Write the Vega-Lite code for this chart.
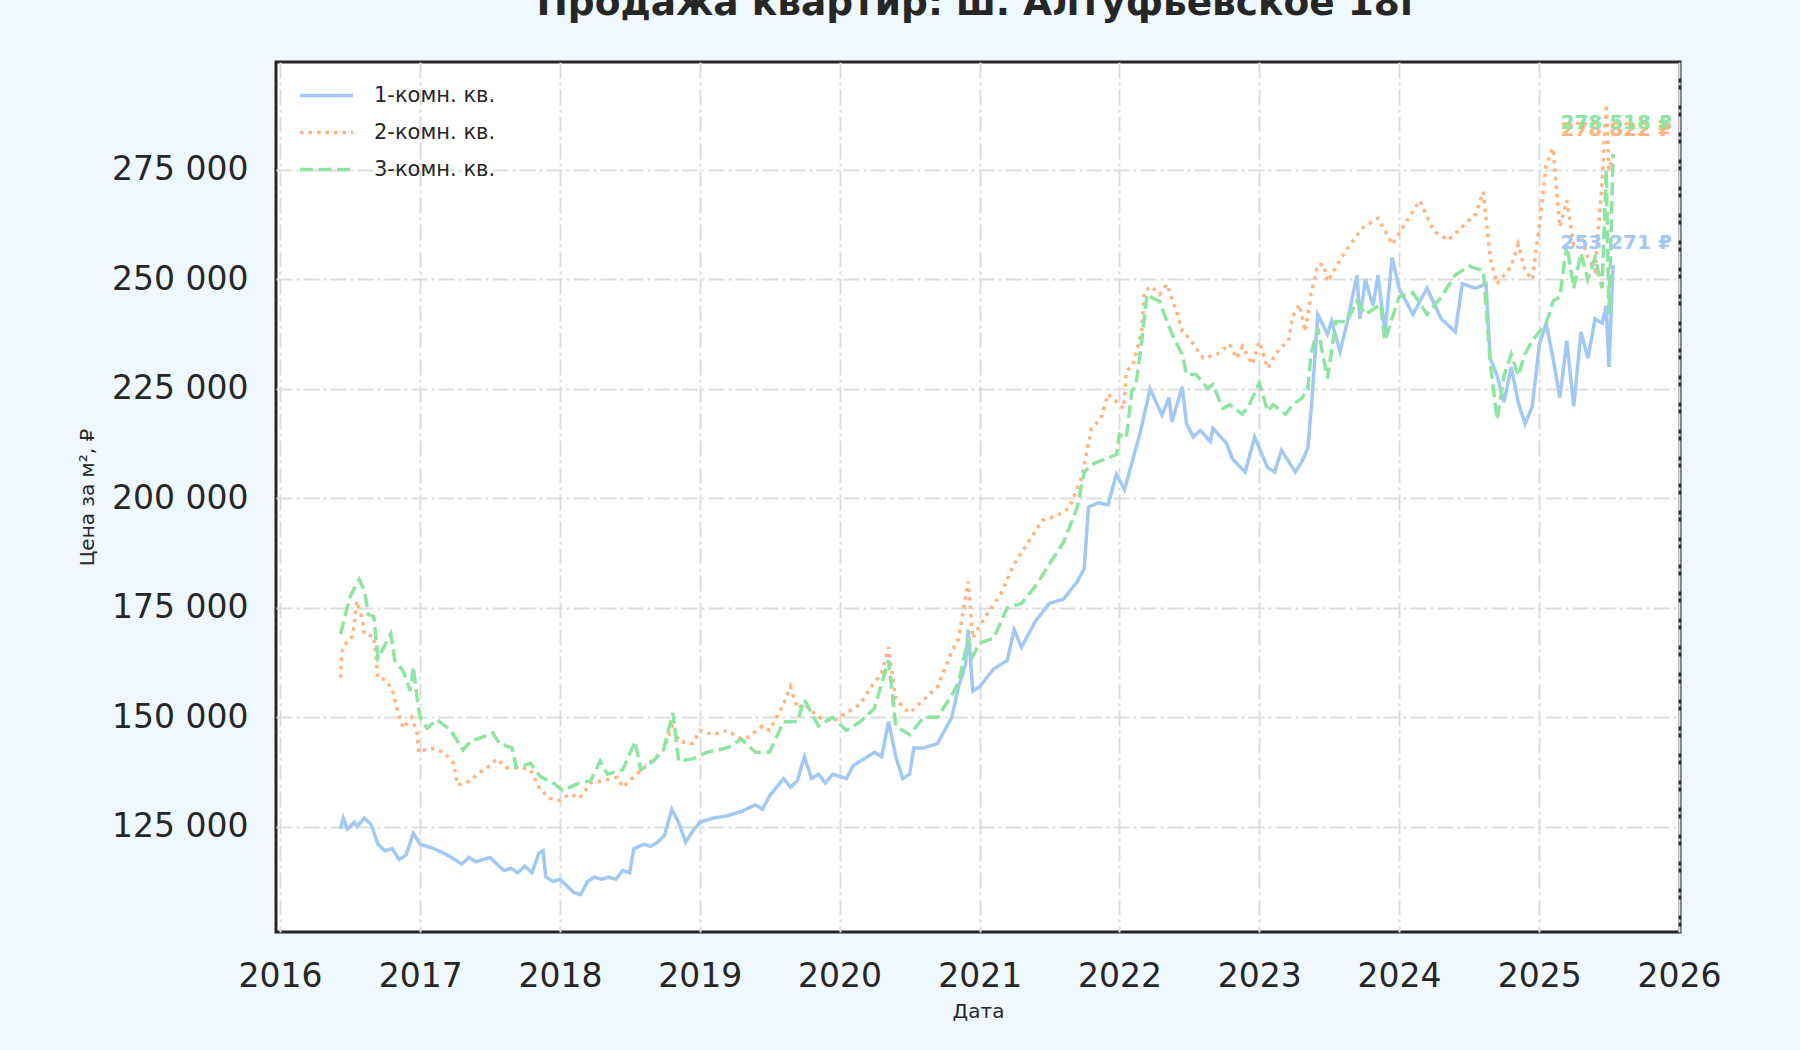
{
  "$schema": "https://vega.github.io/schema/vega-lite/v6.json",
  "width": 1404,
  "height": 870,
  "autosize": {"type": "none"},
  "padding": {"left": 276, "top": 62, "right": 120, "bottom": 118},
  "background": "#f0f8ff",
  "title": {
    "text": "Продажа квартир: ш. Алтуфьевское 18г",
    "font": "DejaVu Sans",
    "fontSize": 37.5,
    "fontWeight": "bold",
    "color": "#262626",
    "anchor": "middle",
    "baseline": "alphabetic",
    "offset": 10
  },
  "data": {
    "values": [
      {"date": "2016-06-07", "type": "1-комн. кв.", "price": 124500},
      {"date": "2016-06-14", "type": "1-комн. кв.", "price": 127000},
      {"date": "2016-06-25", "type": "1-комн. кв.", "price": 124500},
      {"date": "2016-07-13", "type": "1-комн. кв.", "price": 126000},
      {"date": "2016-07-20", "type": "1-комн. кв.", "price": 125000},
      {"date": "2016-08-08", "type": "1-комн. кв.", "price": 127000},
      {"date": "2016-08-26", "type": "1-комн. кв.", "price": 125500},
      {"date": "2016-09-13", "type": "1-комн. кв.", "price": 121000},
      {"date": "2016-10-01", "type": "1-комн. кв.", "price": 119500},
      {"date": "2016-10-20", "type": "1-комн. кв.", "price": 120000},
      {"date": "2016-11-07", "type": "1-комн. кв.", "price": 117500},
      {"date": "2016-11-25", "type": "1-комн. кв.", "price": 118500},
      {"date": "2016-12-14", "type": "1-комн. кв.", "price": 123500},
      {"date": "2017-01-01", "type": "1-комн. кв.", "price": 121000},
      {"date": "2017-01-19", "type": "1-комн. кв.", "price": 120500},
      {"date": "2017-02-06", "type": "1-комн. кв.", "price": 120000},
      {"date": "2017-03-14", "type": "1-комн. кв.", "price": 118500},
      {"date": "2017-04-01", "type": "1-комн. кв.", "price": 117500},
      {"date": "2017-04-20", "type": "1-комн. кв.", "price": 116500},
      {"date": "2017-05-08", "type": "1-комн. кв.", "price": 118000},
      {"date": "2017-05-27", "type": "1-комн. кв.", "price": 117000},
      {"date": "2017-06-14", "type": "1-комн. кв.", "price": 117500},
      {"date": "2017-07-02", "type": "1-комн. кв.", "price": 118000},
      {"date": "2017-07-20", "type": "1-комн. кв.", "price": 116500},
      {"date": "2017-08-08", "type": "1-комн. кв.", "price": 115000},
      {"date": "2017-08-26", "type": "1-комн. кв.", "price": 115500},
      {"date": "2017-09-13", "type": "1-комн. кв.", "price": 114500},
      {"date": "2017-10-01", "type": "1-комн. кв.", "price": 116000},
      {"date": "2017-10-20", "type": "1-комн. кв.", "price": 114500},
      {"date": "2017-11-07", "type": "1-комн. кв.", "price": 119000},
      {"date": "2017-11-18", "type": "1-комн. кв.", "price": 119500},
      {"date": "2017-11-25", "type": "1-комн. кв.", "price": 113500},
      {"date": "2017-12-14", "type": "1-комн. кв.", "price": 112500},
      {"date": "2018-01-01", "type": "1-комн. кв.", "price": 113000},
      {"date": "2018-01-19", "type": "1-комн. кв.", "price": 111500},
      {"date": "2018-02-06", "type": "1-комн. кв.", "price": 110000},
      {"date": "2018-02-24", "type": "1-комн. кв.", "price": 109500},
      {"date": "2018-03-14", "type": "1-комн. кв.", "price": 112500},
      {"date": "2018-04-01", "type": "1-комн. кв.", "price": 113500},
      {"date": "2018-04-20", "type": "1-комн. кв.", "price": 113000},
      {"date": "2018-05-08", "type": "1-комн. кв.", "price": 113500},
      {"date": "2018-05-27", "type": "1-комн. кв.", "price": 113000},
      {"date": "2018-06-14", "type": "1-комн. кв.", "price": 115000},
      {"date": "2018-07-02", "type": "1-комн. кв.", "price": 114500},
      {"date": "2018-07-13", "type": "1-комн. кв.", "price": 120000},
      {"date": "2018-08-08", "type": "1-комн. кв.", "price": 121000},
      {"date": "2018-08-26", "type": "1-комн. кв.", "price": 120500},
      {"date": "2018-09-13", "type": "1-комн. кв.", "price": 121500},
      {"date": "2018-10-01", "type": "1-комн. кв.", "price": 123000},
      {"date": "2018-10-20", "type": "1-комн. кв.", "price": 129000},
      {"date": "2018-11-07", "type": "1-комн. кв.", "price": 126000},
      {"date": "2018-11-25", "type": "1-комн. кв.", "price": 121500},
      {"date": "2018-12-14", "type": "1-комн. кв.", "price": 124000},
      {"date": "2019-01-01", "type": "1-комн. кв.", "price": 126000},
      {"date": "2019-02-06", "type": "1-комн. кв.", "price": 127000},
      {"date": "2019-03-14", "type": "1-комн. кв.", "price": 127500},
      {"date": "2019-04-20", "type": "1-комн. кв.", "price": 128500},
      {"date": "2019-05-27", "type": "1-комн. кв.", "price": 130000},
      {"date": "2019-06-14", "type": "1-комн. кв.", "price": 129000},
      {"date": "2019-07-02", "type": "1-комн. кв.", "price": 132000},
      {"date": "2019-08-08", "type": "1-комн. кв.", "price": 136000},
      {"date": "2019-08-26", "type": "1-комн. кв.", "price": 134000},
      {"date": "2019-09-13", "type": "1-комн. кв.", "price": 135500},
      {"date": "2019-10-01", "type": "1-комн. кв.", "price": 141000},
      {"date": "2019-10-20", "type": "1-комн. кв.", "price": 136000},
      {"date": "2019-11-07", "type": "1-комн. кв.", "price": 137000},
      {"date": "2019-11-25", "type": "1-комн. кв.", "price": 135000},
      {"date": "2019-12-14", "type": "1-комн. кв.", "price": 137000},
      {"date": "2020-01-01", "type": "1-комн. кв.", "price": 136500},
      {"date": "2020-01-19", "type": "1-комн. кв.", "price": 136000},
      {"date": "2020-02-06", "type": "1-комн. кв.", "price": 139000},
      {"date": "2020-03-14", "type": "1-комн. кв.", "price": 141000},
      {"date": "2020-04-01", "type": "1-комн. кв.", "price": 142000},
      {"date": "2020-04-20", "type": "1-комн. кв.", "price": 141000},
      {"date": "2020-05-08", "type": "1-комн. кв.", "price": 149000},
      {"date": "2020-05-27", "type": "1-комн. кв.", "price": 141000},
      {"date": "2020-06-14", "type": "1-комн. кв.", "price": 136000},
      {"date": "2020-07-02", "type": "1-комн. кв.", "price": 137000},
      {"date": "2020-07-13", "type": "1-комн. кв.", "price": 143000},
      {"date": "2020-08-08", "type": "1-комн. кв.", "price": 143000},
      {"date": "2020-09-13", "type": "1-комн. кв.", "price": 144000},
      {"date": "2020-10-20", "type": "1-комн. кв.", "price": 150000},
      {"date": "2020-11-07", "type": "1-комн. кв.", "price": 157000},
      {"date": "2020-11-25", "type": "1-комн. кв.", "price": 162000},
      {"date": "2020-12-02", "type": "1-комн. кв.", "price": 170000},
      {"date": "2020-12-14", "type": "1-комн. кв.", "price": 156000},
      {"date": "2021-01-01", "type": "1-комн. кв.", "price": 157000},
      {"date": "2021-02-06", "type": "1-комн. кв.", "price": 161000},
      {"date": "2021-03-14", "type": "1-комн. кв.", "price": 163000},
      {"date": "2021-04-01", "type": "1-комн. кв.", "price": 170000},
      {"date": "2021-04-20", "type": "1-комн. кв.", "price": 166000},
      {"date": "2021-05-27", "type": "1-комн. кв.", "price": 172000},
      {"date": "2021-07-02", "type": "1-комн. кв.", "price": 176000},
      {"date": "2021-08-08", "type": "1-комн. кв.", "price": 177000},
      {"date": "2021-09-13", "type": "1-комн. кв.", "price": 181000},
      {"date": "2021-10-01", "type": "1-комн. кв.", "price": 184000},
      {"date": "2021-10-12", "type": "1-комн. кв.", "price": 198000},
      {"date": "2021-11-07", "type": "1-комн. кв.", "price": 199000},
      {"date": "2021-12-02", "type": "1-комн. кв.", "price": 198500},
      {"date": "2021-12-24", "type": "1-комн. кв.", "price": 205500},
      {"date": "2022-01-14", "type": "1-комн. кв.", "price": 202000},
      {"date": "2022-01-30", "type": "1-комн. кв.", "price": 207000},
      {"date": "2022-02-24", "type": "1-комн. кв.", "price": 215000},
      {"date": "2022-03-22", "type": "1-комн. кв.", "price": 225000},
      {"date": "2022-04-22", "type": "1-комн. кв.", "price": 219000},
      {"date": "2022-05-10", "type": "1-комн. кв.", "price": 223000},
      {"date": "2022-05-18", "type": "1-комн. кв.", "price": 217500},
      {"date": "2022-06-14", "type": "1-комн. кв.", "price": 225500},
      {"date": "2022-06-25", "type": "1-комн. кв.", "price": 217000},
      {"date": "2022-07-13", "type": "1-комн. кв.", "price": 214000},
      {"date": "2022-07-31", "type": "1-комн. кв.", "price": 215500},
      {"date": "2022-08-26", "type": "1-комн. кв.", "price": 213000},
      {"date": "2022-09-02", "type": "1-комн. кв.", "price": 216000},
      {"date": "2022-10-08", "type": "1-комн. кв.", "price": 212500},
      {"date": "2022-10-23", "type": "1-комн. кв.", "price": 209000},
      {"date": "2022-11-25", "type": "1-комн. кв.", "price": 206000},
      {"date": "2022-12-20", "type": "1-комн. кв.", "price": 214000},
      {"date": "2023-01-23", "type": "1-комн. кв.", "price": 207000},
      {"date": "2023-02-10", "type": "1-комн. кв.", "price": 206000},
      {"date": "2023-02-28", "type": "1-комн. кв.", "price": 211000},
      {"date": "2023-04-05", "type": "1-комн. кв.", "price": 206000},
      {"date": "2023-04-23", "type": "1-комн. кв.", "price": 208500},
      {"date": "2023-05-08", "type": "1-комн. кв.", "price": 211500},
      {"date": "2023-05-19", "type": "1-комн. кв.", "price": 223000},
      {"date": "2023-06-03", "type": "1-комн. кв.", "price": 242000},
      {"date": "2023-06-28", "type": "1-комн. кв.", "price": 237500},
      {"date": "2023-07-09", "type": "1-комн. кв.", "price": 240500},
      {"date": "2023-07-31", "type": "1-комн. кв.", "price": 233500},
      {"date": "2023-08-18", "type": "1-комн. кв.", "price": 240000},
      {"date": "2023-09-13", "type": "1-комн. кв.", "price": 251000},
      {"date": "2023-09-21", "type": "1-комн. кв.", "price": 241000},
      {"date": "2023-10-05", "type": "1-комн. кв.", "price": 250000},
      {"date": "2023-10-25", "type": "1-комн. кв.", "price": 244000},
      {"date": "2023-11-07", "type": "1-комн. кв.", "price": 251000},
      {"date": "2023-11-25", "type": "1-комн. кв.", "price": 238000},
      {"date": "2023-12-14", "type": "1-комн. кв.", "price": 255000},
      {"date": "2024-01-01", "type": "1-комн. кв.", "price": 248000},
      {"date": "2024-02-06", "type": "1-комн. кв.", "price": 242000},
      {"date": "2024-03-14", "type": "1-комн. кв.", "price": 248000},
      {"date": "2024-04-20", "type": "1-комн. кв.", "price": 241000},
      {"date": "2024-05-27", "type": "1-комн. кв.", "price": 238000},
      {"date": "2024-06-14", "type": "1-комн. кв.", "price": 249000},
      {"date": "2024-07-20", "type": "1-комн. кв.", "price": 248000},
      {"date": "2024-08-15", "type": "1-комн. кв.", "price": 249000},
      {"date": "2024-08-26", "type": "1-комн. кв.", "price": 232000},
      {"date": "2024-09-13", "type": "1-комн. кв.", "price": 228000},
      {"date": "2024-10-01", "type": "1-комн. кв.", "price": 222000},
      {"date": "2024-10-20", "type": "1-комн. кв.", "price": 230000},
      {"date": "2024-11-07", "type": "1-комн. кв.", "price": 222000},
      {"date": "2024-11-25", "type": "1-комн. кв.", "price": 217000},
      {"date": "2024-12-14", "type": "1-комн. кв.", "price": 221000},
      {"date": "2025-01-01", "type": "1-комн. кв.", "price": 235000},
      {"date": "2025-01-19", "type": "1-комн. кв.", "price": 240000},
      {"date": "2025-02-06", "type": "1-комн. кв.", "price": 232000},
      {"date": "2025-02-24", "type": "1-комн. кв.", "price": 223000},
      {"date": "2025-03-14", "type": "1-комн. кв.", "price": 236000},
      {"date": "2025-04-01", "type": "1-комн. кв.", "price": 221000},
      {"date": "2025-04-20", "type": "1-комн. кв.", "price": 238000},
      {"date": "2025-05-08", "type": "1-комн. кв.", "price": 232000},
      {"date": "2025-05-27", "type": "1-комн. кв.", "price": 241000},
      {"date": "2025-06-14", "type": "1-комн. кв.", "price": 240000},
      {"date": "2025-06-25", "type": "1-комн. кв.", "price": 244000},
      {"date": "2025-07-02", "type": "1-комн. кв.", "price": 230000},
      {"date": "2025-07-13", "type": "1-комн. кв.", "price": 253271},

      {"date": "2016-06-07", "type": "2-комн. кв.", "price": 159000},
      {"date": "2016-06-11", "type": "2-комн. кв.", "price": 165000},
      {"date": "2016-06-25", "type": "2-комн. кв.", "price": 167500},
      {"date": "2016-07-09", "type": "2-комн. кв.", "price": 168500},
      {"date": "2016-07-20", "type": "2-комн. кв.", "price": 176500},
      {"date": "2016-08-04", "type": "2-комн. кв.", "price": 172000},
      {"date": "2016-08-08", "type": "2-комн. кв.", "price": 169000},
      {"date": "2016-09-02", "type": "2-комн. кв.", "price": 168500},
      {"date": "2016-09-13", "type": "2-комн. кв.", "price": 159000},
      {"date": "2016-10-05", "type": "2-комн. кв.", "price": 158500},
      {"date": "2016-10-23", "type": "2-комн. кв.", "price": 155500},
      {"date": "2016-11-03", "type": "2-комн. кв.", "price": 151500},
      {"date": "2016-11-18", "type": "2-комн. кв.", "price": 147500},
      {"date": "2016-12-10", "type": "2-комн. кв.", "price": 150000},
      {"date": "2016-12-24", "type": "2-комн. кв.", "price": 146500},
      {"date": "2016-12-28", "type": "2-комн. кв.", "price": 142000},
      {"date": "2017-01-27", "type": "2-комн. кв.", "price": 143000},
      {"date": "2017-03-04", "type": "2-комн. кв.", "price": 142000},
      {"date": "2017-03-29", "type": "2-комн. кв.", "price": 139500},
      {"date": "2017-04-09", "type": "2-комн. кв.", "price": 134500},
      {"date": "2017-05-12", "type": "2-комн. кв.", "price": 135500},
      {"date": "2017-05-30", "type": "2-комн. кв.", "price": 137000},
      {"date": "2017-06-25", "type": "2-комн. кв.", "price": 138500},
      {"date": "2017-07-20", "type": "2-комн. кв.", "price": 140500},
      {"date": "2017-08-15", "type": "2-комн. кв.", "price": 138500},
      {"date": "2017-09-21", "type": "2-комн. кв.", "price": 138500},
      {"date": "2017-10-16", "type": "2-комн. кв.", "price": 138000},
      {"date": "2017-11-10", "type": "2-комн. кв.", "price": 133500},
      {"date": "2017-12-06", "type": "2-комн. кв.", "price": 131500},
      {"date": "2018-01-01", "type": "2-комн. кв.", "price": 131000},
      {"date": "2018-01-27", "type": "2-комн. кв.", "price": 132500},
      {"date": "2018-02-21", "type": "2-комн. кв.", "price": 131500},
      {"date": "2018-03-22", "type": "2-комн. кв.", "price": 135000},
      {"date": "2018-04-23", "type": "2-комн. кв.", "price": 135500},
      {"date": "2018-05-30", "type": "2-комн. кв.", "price": 136300},
      {"date": "2018-06-14", "type": "2-комн. кв.", "price": 134000},
      {"date": "2018-07-20", "type": "2-комн. кв.", "price": 137000},
      {"date": "2018-08-22", "type": "2-комн. кв.", "price": 139500},
      {"date": "2018-09-28", "type": "2-комн. кв.", "price": 142500},
      {"date": "2018-10-23", "type": "2-комн. кв.", "price": 148500},
      {"date": "2018-11-07", "type": "2-комн. кв.", "price": 144500},
      {"date": "2018-12-14", "type": "2-комн. кв.", "price": 144000},
      {"date": "2019-01-01", "type": "2-комн. кв.", "price": 147000},
      {"date": "2019-02-06", "type": "2-комн. кв.", "price": 146000},
      {"date": "2019-03-14", "type": "2-комн. кв.", "price": 147000},
      {"date": "2019-04-20", "type": "2-комн. кв.", "price": 145000},
      {"date": "2019-05-08", "type": "2-комн. кв.", "price": 145500},
      {"date": "2019-06-14", "type": "2-комн. кв.", "price": 148000},
      {"date": "2019-07-02", "type": "2-комн. кв.", "price": 147000},
      {"date": "2019-08-08", "type": "2-комн. кв.", "price": 153000},
      {"date": "2019-08-26", "type": "2-комн. кв.", "price": 157000},
      {"date": "2019-09-13", "type": "2-комн. кв.", "price": 152000},
      {"date": "2019-10-01", "type": "2-комн. кв.", "price": 153000},
      {"date": "2019-11-07", "type": "2-комн. кв.", "price": 150000},
      {"date": "2019-12-14", "type": "2-комн. кв.", "price": 149000},
      {"date": "2020-01-01", "type": "2-комн. кв.", "price": 150000},
      {"date": "2020-02-24", "type": "2-комн. кв.", "price": 153000},
      {"date": "2020-04-01", "type": "2-комн. кв.", "price": 158000},
      {"date": "2020-04-20", "type": "2-комн. кв.", "price": 160000},
      {"date": "2020-05-08", "type": "2-комн. кв.", "price": 166000},
      {"date": "2020-05-27", "type": "2-комн. кв.", "price": 154000},
      {"date": "2020-07-02", "type": "2-комн. кв.", "price": 151000},
      {"date": "2020-08-08", "type": "2-комн. кв.", "price": 154000},
      {"date": "2020-09-13", "type": "2-комн. кв.", "price": 157000},
      {"date": "2020-10-20", "type": "2-комн. кв.", "price": 165000},
      {"date": "2020-11-07", "type": "2-комн. кв.", "price": 168000},
      {"date": "2020-12-02", "type": "2-комн. кв.", "price": 181000},
      {"date": "2020-12-14", "type": "2-комн. кв.", "price": 168000},
      {"date": "2021-01-01", "type": "2-комн. кв.", "price": 171000},
      {"date": "2021-02-24", "type": "2-комн. кв.", "price": 178000},
      {"date": "2021-04-01", "type": "2-комн. кв.", "price": 185000},
      {"date": "2021-05-08", "type": "2-комн. кв.", "price": 190000},
      {"date": "2021-06-14", "type": "2-комн. кв.", "price": 195000},
      {"date": "2021-07-20", "type": "2-комн. кв.", "price": 196000},
      {"date": "2021-08-22", "type": "2-комн. кв.", "price": 197700},
      {"date": "2021-09-24", "type": "2-комн. кв.", "price": 204600},
      {"date": "2021-10-20", "type": "2-комн. кв.", "price": 216000},
      {"date": "2021-11-14", "type": "2-комн. кв.", "price": 218300},
      {"date": "2021-12-02", "type": "2-комн. кв.", "price": 223800},
      {"date": "2021-12-24", "type": "2-комн. кв.", "price": 222100},
      {"date": "2022-01-12", "type": "2-комн. кв.", "price": 220500},
      {"date": "2022-01-19", "type": "2-комн. кв.", "price": 229000},
      {"date": "2022-02-06", "type": "2-комн. кв.", "price": 230600},
      {"date": "2022-02-28", "type": "2-комн. кв.", "price": 238100},
      {"date": "2022-03-07", "type": "2-комн. кв.", "price": 247300},
      {"date": "2022-03-25", "type": "2-комн. кв.", "price": 248400},
      {"date": "2022-04-16", "type": "2-комн. кв.", "price": 246600},
      {"date": "2022-05-05", "type": "2-комн. кв.", "price": 248900},
      {"date": "2022-05-30", "type": "2-комн. кв.", "price": 242700},
      {"date": "2022-06-14", "type": "2-комн. кв.", "price": 238100},
      {"date": "2022-07-02", "type": "2-комн. кв.", "price": 236600},
      {"date": "2022-07-20", "type": "2-комн. кв.", "price": 234300},
      {"date": "2022-08-08", "type": "2-комн. кв.", "price": 232000},
      {"date": "2022-09-13", "type": "2-комн. кв.", "price": 232900},
      {"date": "2022-10-16", "type": "2-комн. кв.", "price": 235200},
      {"date": "2022-11-03", "type": "2-комн. кв.", "price": 232000},
      {"date": "2022-11-18", "type": "2-комн. кв.", "price": 234700},
      {"date": "2022-12-14", "type": "2-комн. кв.", "price": 230600},
      {"date": "2023-01-01", "type": "2-комн. кв.", "price": 235800},
      {"date": "2023-01-23", "type": "2-комн. кв.", "price": 229700},
      {"date": "2023-02-06", "type": "2-комн. кв.", "price": 232000},
      {"date": "2023-02-24", "type": "2-комн. кв.", "price": 234300},
      {"date": "2023-03-18", "type": "2-комн. кв.", "price": 235800},
      {"date": "2023-03-29", "type": "2-комн. кв.", "price": 241500},
      {"date": "2023-04-16", "type": "2-комн. кв.", "price": 244300},
      {"date": "2023-05-01", "type": "2-комн. кв.", "price": 238100},
      {"date": "2023-05-16", "type": "2-комн. кв.", "price": 246600},
      {"date": "2023-06-03", "type": "2-комн. кв.", "price": 253400},
      {"date": "2023-06-18", "type": "2-комн. кв.", "price": 253400},
      {"date": "2023-06-28", "type": "2-комн. кв.", "price": 249500},
      {"date": "2023-07-24", "type": "2-комн. кв.", "price": 253400},
      {"date": "2023-08-26", "type": "2-комн. кв.", "price": 258000},
      {"date": "2023-10-01", "type": "2-комн. кв.", "price": 262000},
      {"date": "2023-11-07", "type": "2-комн. кв.", "price": 264000},
      {"date": "2023-12-14", "type": "2-комн. кв.", "price": 258000},
      {"date": "2024-01-19", "type": "2-комн. кв.", "price": 263000},
      {"date": "2024-02-24", "type": "2-комн. кв.", "price": 268000},
      {"date": "2024-04-01", "type": "2-комн. кв.", "price": 261000},
      {"date": "2024-05-08", "type": "2-комн. кв.", "price": 259000},
      {"date": "2024-06-14", "type": "2-комн. кв.", "price": 262000},
      {"date": "2024-07-20", "type": "2-комн. кв.", "price": 265000},
      {"date": "2024-08-08", "type": "2-комн. кв.", "price": 270000},
      {"date": "2024-08-26", "type": "2-комн. кв.", "price": 255000},
      {"date": "2024-09-13", "type": "2-комн. кв.", "price": 249000},
      {"date": "2024-10-20", "type": "2-комн. кв.", "price": 253000},
      {"date": "2024-11-07", "type": "2-комн. кв.", "price": 258000},
      {"date": "2024-11-25", "type": "2-комн. кв.", "price": 252000},
      {"date": "2024-12-14", "type": "2-комн. кв.", "price": 250000},
      {"date": "2025-01-01", "type": "2-комн. кв.", "price": 262000},
      {"date": "2025-01-19", "type": "2-комн. кв.", "price": 276000},
      {"date": "2025-02-06", "type": "2-комн. кв.", "price": 280000},
      {"date": "2025-02-24", "type": "2-комн. кв.", "price": 262000},
      {"date": "2025-03-14", "type": "2-комн. кв.", "price": 268000},
      {"date": "2025-04-01", "type": "2-комн. кв.", "price": 258000},
      {"date": "2025-04-20", "type": "2-комн. кв.", "price": 260000},
      {"date": "2025-05-08", "type": "2-комн. кв.", "price": 255000},
      {"date": "2025-05-27", "type": "2-комн. кв.", "price": 252000},
      {"date": "2025-06-14", "type": "2-комн. кв.", "price": 272000},
      {"date": "2025-06-25", "type": "2-комн. кв.", "price": 290000},
      {"date": "2025-07-02", "type": "2-комн. кв.", "price": 275000},
      {"date": "2025-07-13", "type": "2-комн. кв.", "price": 278822},

      {"date": "2016-06-07", "type": "3-комн. кв.", "price": 169000},
      {"date": "2016-07-02", "type": "3-комн. кв.", "price": 177500},
      {"date": "2016-07-26", "type": "3-комн. кв.", "price": 181500},
      {"date": "2016-08-08", "type": "3-комн. кв.", "price": 179000},
      {"date": "2016-08-19", "type": "3-комн. кв.", "price": 173500},
      {"date": "2016-09-02", "type": "3-комн. кв.", "price": 173000},
      {"date": "2016-09-13", "type": "3-комн. кв.", "price": 163500},
      {"date": "2016-10-16", "type": "3-комн. кв.", "price": 169000},
      {"date": "2016-10-27", "type": "3-комн. кв.", "price": 163000},
      {"date": "2016-11-18", "type": "3-комн. кв.", "price": 160500},
      {"date": "2016-12-06", "type": "3-комн. кв.", "price": 156000},
      {"date": "2016-12-14", "type": "3-комн. кв.", "price": 161500},
      {"date": "2016-12-24", "type": "3-комн. кв.", "price": 154500},
      {"date": "2017-01-01", "type": "3-комн. кв.", "price": 150000},
      {"date": "2017-01-19", "type": "3-комн. кв.", "price": 147500},
      {"date": "2017-02-14", "type": "3-комн. кв.", "price": 149500},
      {"date": "2017-03-22", "type": "3-комн. кв.", "price": 147000},
      {"date": "2017-04-23", "type": "3-комн. кв.", "price": 142500},
      {"date": "2017-05-12", "type": "3-комн. кв.", "price": 144500},
      {"date": "2017-06-14", "type": "3-комн. кв.", "price": 145500},
      {"date": "2017-07-09", "type": "3-комн. кв.", "price": 146500},
      {"date": "2017-07-27", "type": "3-комн. кв.", "price": 144000},
      {"date": "2017-08-29", "type": "3-комн. кв.", "price": 143000},
      {"date": "2017-09-09", "type": "3-комн. кв.", "price": 138500},
      {"date": "2017-10-16", "type": "3-комн. кв.", "price": 139500},
      {"date": "2017-11-10", "type": "3-комн. кв.", "price": 136500},
      {"date": "2017-12-14", "type": "3-комн. кв.", "price": 135000},
      {"date": "2018-01-08", "type": "3-комн. кв.", "price": 133300},
      {"date": "2018-02-21", "type": "3-комн. кв.", "price": 135000},
      {"date": "2018-03-22", "type": "3-комн. кв.", "price": 135500},
      {"date": "2018-04-16", "type": "3-комн. кв.", "price": 140000},
      {"date": "2018-05-05", "type": "3-комн. кв.", "price": 137000},
      {"date": "2018-06-14", "type": "3-комн. кв.", "price": 138000},
      {"date": "2018-07-16", "type": "3-комн. кв.", "price": 144500},
      {"date": "2018-07-31", "type": "3-комн. кв.", "price": 138000},
      {"date": "2018-09-02", "type": "3-комн. кв.", "price": 140000},
      {"date": "2018-09-28", "type": "3-комн. кв.", "price": 142500},
      {"date": "2018-10-23", "type": "3-комн. кв.", "price": 151000},
      {"date": "2018-11-07", "type": "3-комн. кв.", "price": 140000},
      {"date": "2018-12-14", "type": "3-комн. кв.", "price": 140500},
      {"date": "2019-01-19", "type": "3-комн. кв.", "price": 142000},
      {"date": "2019-03-14", "type": "3-комн. кв.", "price": 143000},
      {"date": "2019-04-20", "type": "3-комн. кв.", "price": 145000},
      {"date": "2019-05-27", "type": "3-комн. кв.", "price": 142000},
      {"date": "2019-07-02", "type": "3-комн. кв.", "price": 142000},
      {"date": "2019-08-08", "type": "3-комн. кв.", "price": 149000},
      {"date": "2019-09-13", "type": "3-комн. кв.", "price": 149000},
      {"date": "2019-10-01", "type": "3-комн. кв.", "price": 154000},
      {"date": "2019-11-07", "type": "3-комн. кв.", "price": 148000},
      {"date": "2019-12-14", "type": "3-комн. кв.", "price": 150000},
      {"date": "2020-01-19", "type": "3-комн. кв.", "price": 147000},
      {"date": "2020-02-24", "type": "3-комн. кв.", "price": 149000},
      {"date": "2020-04-01", "type": "3-комн. кв.", "price": 152000},
      {"date": "2020-05-08", "type": "3-комн. кв.", "price": 163000},
      {"date": "2020-05-27", "type": "3-комн. кв.", "price": 148000},
      {"date": "2020-07-02", "type": "3-комн. кв.", "price": 146000},
      {"date": "2020-08-08", "type": "3-комн. кв.", "price": 150000},
      {"date": "2020-09-13", "type": "3-комн. кв.", "price": 150000},
      {"date": "2020-10-20", "type": "3-комн. кв.", "price": 155000},
      {"date": "2020-11-07", "type": "3-комн. кв.", "price": 158000},
      {"date": "2020-12-02", "type": "3-комн. кв.", "price": 168000},
      {"date": "2020-12-14", "type": "3-комн. кв.", "price": 164000},
      {"date": "2021-01-01", "type": "3-комн. кв.", "price": 167000},
      {"date": "2021-02-06", "type": "3-комн. кв.", "price": 168000},
      {"date": "2021-03-14", "type": "3-комн. кв.", "price": 175000},
      {"date": "2021-04-20", "type": "3-комн. кв.", "price": 176000},
      {"date": "2021-05-27", "type": "3-комн. кв.", "price": 180000},
      {"date": "2021-07-02", "type": "3-комн. кв.", "price": 185000},
      {"date": "2021-08-08", "type": "3-комн. кв.", "price": 190000},
      {"date": "2021-09-13", "type": "3-комн. кв.", "price": 198000},
      {"date": "2021-10-01", "type": "3-комн. кв.", "price": 206000},
      {"date": "2021-10-20", "type": "3-комн. кв.", "price": 207700},
      {"date": "2021-11-10", "type": "3-комн. кв.", "price": 208500},
      {"date": "2021-12-24", "type": "3-комн. кв.", "price": 210000},
      {"date": "2022-01-01", "type": "3-комн. кв.", "price": 214600},
      {"date": "2022-01-19", "type": "3-комн. кв.", "price": 213800},
      {"date": "2022-02-02", "type": "3-комн. кв.", "price": 224400},
      {"date": "2022-02-13", "type": "3-комн. кв.", "price": 226000},
      {"date": "2022-02-28", "type": "3-комн. кв.", "price": 235800},
      {"date": "2022-03-14", "type": "3-комн. кв.", "price": 246600},
      {"date": "2022-03-29", "type": "3-комн. кв.", "price": 245700},
      {"date": "2022-04-16", "type": "3-комн. кв.", "price": 245000},
      {"date": "2022-05-05", "type": "3-комн. кв.", "price": 240400},
      {"date": "2022-05-23", "type": "3-комн. кв.", "price": 236600},
      {"date": "2022-06-14", "type": "3-комн. кв.", "price": 232900},
      {"date": "2022-06-25", "type": "3-комн. кв.", "price": 228300},
      {"date": "2022-07-20", "type": "3-комн. кв.", "price": 228300},
      {"date": "2022-08-19", "type": "3-комн. кв.", "price": 225100},
      {"date": "2022-09-02", "type": "3-комн. кв.", "price": 226000},
      {"date": "2022-09-28", "type": "3-комн. кв.", "price": 220500},
      {"date": "2022-10-16", "type": "3-комн. кв.", "price": 221400},
      {"date": "2022-11-18", "type": "3-комн. кв.", "price": 219200},
      {"date": "2022-12-06", "type": "3-комн. кв.", "price": 221400},
      {"date": "2023-01-01", "type": "3-комн. кв.", "price": 226300},
      {"date": "2023-01-23", "type": "3-комн. кв.", "price": 219900},
      {"date": "2023-02-06", "type": "3-комн. кв.", "price": 221400},
      {"date": "2023-03-11", "type": "3-комн. кв.", "price": 219200},
      {"date": "2023-03-29", "type": "3-комн. кв.", "price": 221400},
      {"date": "2023-04-23", "type": "3-комн. кв.", "price": 222900},
      {"date": "2023-05-08", "type": "3-комн. кв.", "price": 225100},
      {"date": "2023-05-16", "type": "3-комн. кв.", "price": 232900},
      {"date": "2023-06-03", "type": "3-комн. кв.", "price": 238800},
      {"date": "2023-06-18", "type": "3-комн. кв.", "price": 232000},
      {"date": "2023-06-28", "type": "3-комн. кв.", "price": 227400},
      {"date": "2023-07-20", "type": "3-комн. кв.", "price": 240400},
      {"date": "2023-08-18", "type": "3-комн. кв.", "price": 240400},
      {"date": "2023-09-13", "type": "3-комн. кв.", "price": 245000},
      {"date": "2023-10-05", "type": "3-комн. кв.", "price": 242000},
      {"date": "2023-11-14", "type": "3-комн. кв.", "price": 244300},
      {"date": "2023-11-25", "type": "3-комн. кв.", "price": 236000},
      {"date": "2024-01-01", "type": "3-комн. кв.", "price": 246000},
      {"date": "2024-02-06", "type": "3-комн. кв.", "price": 247000},
      {"date": "2024-03-14", "type": "3-комн. кв.", "price": 242000},
      {"date": "2024-04-20", "type": "3-комн. кв.", "price": 246000},
      {"date": "2024-05-27", "type": "3-комн. кв.", "price": 251000},
      {"date": "2024-07-02", "type": "3-комн. кв.", "price": 253000},
      {"date": "2024-08-08", "type": "3-комн. кв.", "price": 252000},
      {"date": "2024-08-26", "type": "3-комн. кв.", "price": 231000},
      {"date": "2024-09-13", "type": "3-комн. кв.", "price": 218000},
      {"date": "2024-10-01", "type": "3-комн. кв.", "price": 228000},
      {"date": "2024-10-20", "type": "3-комн. кв.", "price": 233000},
      {"date": "2024-11-07", "type": "3-комн. кв.", "price": 228000},
      {"date": "2024-11-25", "type": "3-комн. кв.", "price": 233000},
      {"date": "2024-12-14", "type": "3-комн. кв.", "price": 236000},
      {"date": "2025-01-01", "type": "3-комн. кв.", "price": 238000},
      {"date": "2025-01-19", "type": "3-комн. кв.", "price": 240000},
      {"date": "2025-02-06", "type": "3-комн. кв.", "price": 245000},
      {"date": "2025-02-24", "type": "3-комн. кв.", "price": 246000},
      {"date": "2025-03-14", "type": "3-комн. кв.", "price": 258000},
      {"date": "2025-04-01", "type": "3-комн. кв.", "price": 248000},
      {"date": "2025-04-20", "type": "3-комн. кв.", "price": 256000},
      {"date": "2025-05-08", "type": "3-комн. кв.", "price": 250000},
      {"date": "2025-05-27", "type": "3-комн. кв.", "price": 255000},
      {"date": "2025-06-14", "type": "3-комн. кв.", "price": 248000},
      {"date": "2025-06-25", "type": "3-комн. кв.", "price": 275000},
      {"date": "2025-07-02", "type": "3-комн. кв.", "price": 242000},
      {"date": "2025-07-13", "type": "3-комн. кв.", "price": 278518}
    ]
  },
  "encoding": {
    "x": {
      "field": "date",
      "type": "temporal",
      "title": "Дата",
      "scale": {
        "type": "utc",
        "domain": [
          {"year": 2015, "month": 12, "date": 21, "hours": 14, "utc": true},
          {"year": 2026, "month": 1, "date": 3, "hours": 14, "utc": true}
        ]
      },
      "axis": {
        "tickCount": {"interval": "year", "step": 1},
        "format": "%Y",
        "labelFlush": false,
        "labelOverlap": false,
        "titlePadding": 8
      }
    },
    "y": {
      "field": "price",
      "type": "quantitative",
      "title": "Цена за м², ₽",
      "scale": {"domain": [100960, 299660], "nice": false, "zero": false},
      "axis": {
        "values": [125000, 150000, 175000, 200000, 225000, 250000, 275000],
        "format": ",d",
        "labelFlush": false,
        "labelOverlap": false,
        "titlePadding": 14
      }
    }
  },
  "layer": [
    {
      "mark": {"type": "line", "strokeWidth": 3.5, "strokeCap": "butt", "clip": true},
      "encoding": {
        "color": {
          "field": "type",
          "type": "nominal",
          "scale": {
            "domain": ["1-комн. кв.", "2-комн. кв.", "3-комн. кв."],
            "range": ["#a1c9f4", "#ffb482", "#8de5a1"]
          },
          "legend": {"title": null}
        },
        "strokeDash": {
          "field": "type",
          "type": "nominal",
          "scale": {
            "domain": ["1-комн. кв.", "2-комн. кв.", "3-комн. кв."],
            "range": [[1, 0], [3.5, 5], [13, 5.5]]
          },
          "legend": {"title": null}
        }
      }
    },
    {
      "transform": [
        {"filter": "datum.type === '1-комн. кв.'"},
        {"window": [{"op": "row_number", "as": "rn"}], "sort": [{"field": "date", "order": "descending"}]},
        {"filter": "datum.rn === 1"}
      ],
      "mark": {"type": "text", "font": "DejaVu Sans", "fontWeight": "bold", "fontSize": 20, "color": "#a1c9f4", "dx": 3, "dy": -22},
      "encoding": {"text": {"field": "price", "type": "quantitative", "format": "$,d"}}
    },
    {
      "transform": [
        {"filter": "datum.type === '2-комн. кв.'"},
        {"window": [{"op": "row_number", "as": "rn"}], "sort": [{"field": "date", "order": "descending"}]},
        {"filter": "datum.rn === 1"}
      ],
      "mark": {"type": "text", "font": "DejaVu Sans", "fontWeight": "bold", "fontSize": 20, "color": "#ffb482", "dx": 3, "dy": -23},
      "encoding": {"text": {"field": "price", "type": "quantitative", "format": "$,d"}}
    },
    {
      "transform": [
        {"filter": "datum.type === '3-комн. кв.'"},
        {"window": [{"op": "row_number", "as": "rn"}], "sort": [{"field": "date", "order": "descending"}]},
        {"filter": "datum.rn === 1"}
      ],
      "mark": {"type": "text", "font": "DejaVu Sans", "fontWeight": "bold", "fontSize": 20, "color": "#8de5a1", "dx": 3, "dy": -32},
      "encoding": {"text": {"field": "price", "type": "quantitative", "format": "$,d"}}
    }
  ],
  "config": {
    "locale": {
      "number": {"decimal": ",", "thousands": " ", "grouping": [3], "currency": ["", " ₽"]}
    },
    "view": {"stroke": "#262626", "strokeWidth": 3, "fill": "#ffffff"},
    "axis": {
      "domain": false,
      "ticks": false,
      "labelFont": "DejaVu Sans",
      "labelFontSize": 33,
      "labelColor": "#262626",
      "labelPadding": 28,
      "titleFont": "DejaVu Sans",
      "titleFontSize": 20,
      "titleFontWeight": "normal",
      "titleColor": "#262626",
      "gridColor": "#dddddd",
      "gridWidth": 2,
      "gridDash": [16, 4, 3, 4]
    },
    "legend": {
      "orient": "none",
      "legendX": 22,
      "legendY": 15,
      "padding": 0,
      "symbolType": "stroke",
      "symbolSize": 2809,
      "symbolStrokeWidth": 3.5,
      "clipHeight": 37,
      "rowPadding": 0,
      "labelFont": "DejaVu Sans",
      "labelFontSize": 21,
      "labelColor": "#262626",
      "labelOffset": 19
    }
  }
}
